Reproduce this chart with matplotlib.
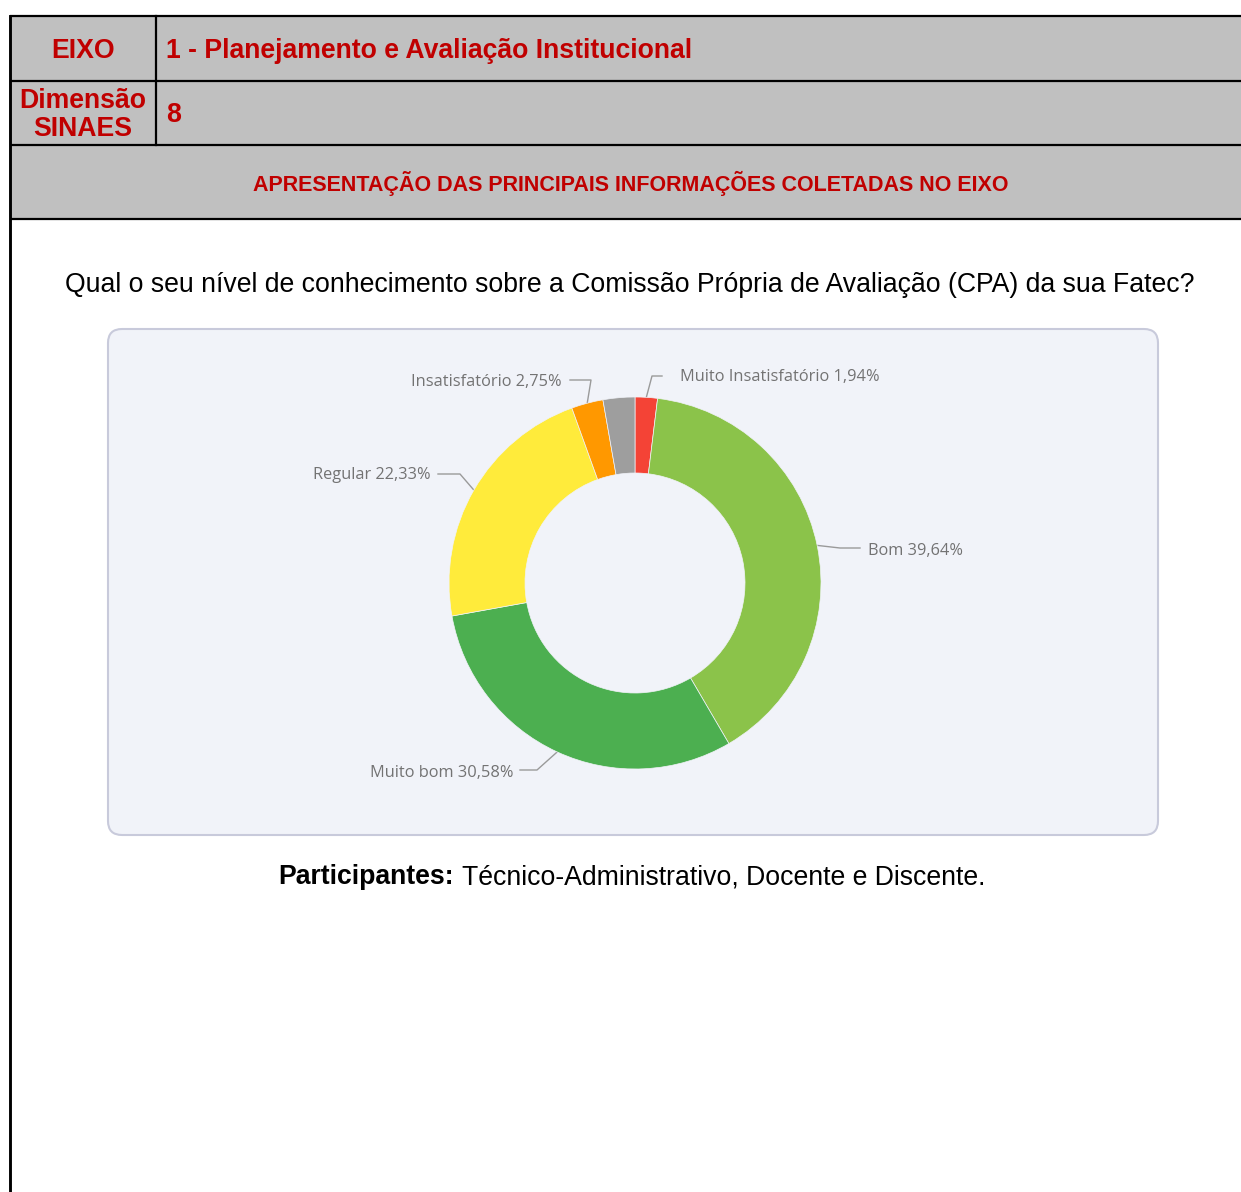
import numpy as np
import matplotlib
matplotlib.use("Agg")
import matplotlib.pyplot as plt
from matplotlib.patches import Rectangle, FancyBboxPatch

# data
categorias = ["Muito Insatisfatório", "Bom", "Muito bom", "Regular", "Insatisfatório", ""]
percentuais = [1.94, 39.64, 30.58, 22.33, 2.75, 2.76]
cores = ["#f44336", "#8bc34a", "#4caf50", "#ffeb3b", "#ff9800", "#9e9e9e"]

eixo = "1 - Planejamento e Avaliação Institucional"
dimensao = "8"
secao = "APRESENTAÇÃO DAS PRINCIPAIS INFORMAÇÕES COLETADAS NO EIXO"
pergunta = "Qual o seu nível de conhecimento sobre a Comissão Própria de Avaliação (CPA) da sua Fatec?"
participantes = "Técnico-Administrativo, Docente e Discente."

W, H = 1241, 1192
fig = plt.figure(figsize=(W / 100, H / 100), dpi=100)
ax = fig.add_axes([0, 0, 1, 1])
ax.set_xlim(0, W)
ax.set_ylim(H, 0)
ax.axis("off")

vermelho = "#c00000"
cinza = "#c0c0c0"
lw = 1.6
fs = 19.2

# header table
ax.add_patch(Rectangle((10, 16), W, 203, facecolor=cinza, edgecolor="none"))
for y in [16, 81, 145, 219]:
    ax.plot([10, W], [y, y], color="black", lw=lw, solid_capstyle="butt")
ax.plot([10, 10], [16, H], color="black", lw=lw * 1.3)
ax.plot([156, 156], [16, 145], color="black", lw=lw)

fonte = "Liberation Sans"
ax.text(83, 51, "EIXO", ha="center", va="center", color=vermelho, fontsize=fs,
        fontweight="bold", family=fonte)
ax.text(166, 51, eixo, ha="left", va="center", color=vermelho, fontsize=fs,
        fontweight="bold", family=fonte)
ax.text(83, 115, "Dimensão\nSINAES", ha="center", va="center", color=vermelho, fontsize=fs,
        fontweight="bold", family=fonte, linespacing=1.15)
ax.text(166, 115, dimensao, ha="left", va="center", color=vermelho, fontsize=fs,
        fontweight="bold", family=fonte)
ax.text(631, 183, secao, ha="center", va="center", color=vermelho, fontsize=15.5,
        fontweight="bold", family=fonte)

ax.text(630, 285, pergunta, ha="center", va="center", color="black", fontsize=fs,
        family=fonte)

# chart card
ax.add_patch(FancyBboxPatch((108, 329), 1050, 506,
                            boxstyle="round,pad=0,rounding_size=14",
                            facecolor="#f1f3f9", edgecolor="#c8cadb", lw=1.5))

t = ax.text(278, 884, "Participantes:", ha="left", va="baseline", fontsize=fs,
            fontweight="bold", family=fonte)
fig.canvas.draw()
bb = t.get_window_extent()
ax.text(bb.x1 + 8, 884, participantes, ha="left", va="baseline", fontsize=fs,
        family=fonte)

# donut
cx, cy, R, r = 635, 583, 186, 110
pax = fig.add_axes([(cx - R) / W, (H - cy - R) / H, 2 * R / W, 2 * R / H])
pax.pie(percentuais, colors=cores, startangle=90, counterclock=False, radius=1,
        wedgeprops=dict(width=(R - r) / R, edgecolor="#f1f3f9", linewidth=0.5))
pax.set_xlim(-1, 1)
pax.set_ylim(-1, 1)
pax.axis("off")

# labels with leader lines (elbow and text in pixels, anchor from data)
layout = {
    "Muito Insatisfatório": ((652, 376), (662, 376), (680, 377), "left"),
    "Bom": ((840, 548), (860, 548), (868, 551), "left"),
    "Muito bom": ((537, 770), (520, 770), (514, 773), "right"),
    "Regular": ((460, 474), (438, 474), (431, 475), "right"),
    "Insatisfatório": ((591, 380), (570, 380), (562, 382), "right"),
}
acum = np.cumsum([0] + percentuais)
for i, (cat, val) in enumerate(zip(categorias, percentuais)):
    if cat not in layout:
        continue
    meio = np.deg2rad(90 - (acum[i] + val / 2) * 3.6)
    ancora = (cx + R * np.cos(meio), cy - R * np.sin(meio))
    cot, fim, pos, ha = layout[cat]
    ax.plot([ancora[0], cot[0], fim[0]], [ancora[1], cot[1], fim[1]],
            color="#9a9a9a", lw=1)
    rotulo = f"{cat} {val:.2f}%".replace(".", ",")
    ax.text(pos[0], pos[1], rotulo, ha=ha, va="center", color="#737373",
            fontsize=11.8, family="Open Sans")

fig.savefig("out.png", dpi=100)
